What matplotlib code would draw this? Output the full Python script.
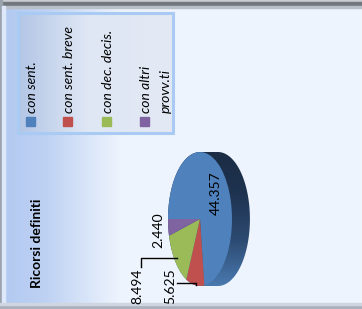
import numpy as np
import matplotlib
matplotlib.use("Agg")
import matplotlib.pyplot as plt
from matplotlib.colors import LinearSegmentedColormap
from matplotlib.patches import Rectangle, Polygon

# ---- data ----
categories = ["con sent.", "con sent. breve", "con dec. decis.", "con altri\nprovv.ti"]
values = [44.357, 5.625, 8.494, 2.440]
value_labels = ["44.357", "5.625", "8.494", "2.440"]
colors = ["#4f81bd", "#c0504d", "#9bbb59", "#8064a2"]
title = "Ricorsi definiti"

W, H = 362, 309
fig = plt.figure(figsize=(W / 100, H / 100), dpi=100)
plt.rcParams['font.family'] = ['Lato', 'DejaVu Sans']

# ---- background axes (pixel coords) ----
bg = fig.add_axes([0, 0, 1, 1], zorder=0)
bg.set_xlim(0, W)
bg.set_ylim(H, 0)
bg.axis('off')
bgcmap = LinearSegmentedColormap.from_list('bg', [(0, '#b2c9f0'), (0.12, '#bdd1f3'), (0.33, '#eef4fd'), (1, '#eff5fd')])
grad = np.linspace(0, 1, 362)[None, :]
bg.imshow(grad, extent=(0, W, H, 0), cmap=bgcmap, aspect='auto', zorder=0)
# borders
bg.add_patch(Rectangle((0, 0), W, 2, color='#c9cdd3', zorder=1))
bg.add_patch(Rectangle((0, 2), W, 4, color='#72777e', zorder=1))
bg.add_patch(Rectangle((0, 6), W, 2, color='#b9bfc7', zorder=1))
bg.add_patch(Rectangle((0, 0), 2, H, color='#9aa2ad', zorder=1))
bg.add_patch(Rectangle((2, 6), 3, H - 8, color='#dde9fb', zorder=1))
bg.add_patch(Rectangle((0, H - 4), W, 4, color='#a9b1bc', zorder=1))
bg.add_patch(Rectangle((0, H - 6), W, 2, color='#cfd6e0', zorder=1))

# legend box
lx0, ly0, lx1, ly1 = 18, 13, 173, 133
lcmap = LinearSegmentedColormap.from_list('lg', [(0, '#b3c6e6'), (0.45, '#dfe7f4'), (1, '#e3e9f5')])
lim = bg.imshow(np.linspace(0, 1, 100)[None, :], extent=(lx0, lx1, ly1, ly0),
                cmap=lcmap, aspect='auto', zorder=2)
lbox = Rectangle((lx0, ly0), lx1 - lx0, ly1 - ly0, facecolor='none',
                 edgecolor='#a9cbf3', lw=2.2, zorder=3)
bg.add_patch(lbox)
lim.set_clip_path(lbox)
bg.set_xlim(0, W)
bg.set_ylim(H, 0)

# ---- pie axes ----
cx, cy, sx, sy = 200, 219, 32, 67
x0d, x1d, y0d, y1d = -1.2, 2.0, -1.2, 1.2
left_px = cx + x0d * sx
right_px = cx + x1d * sx
top_px = cy - y1d * sy
bot_px = cy - y0d * sy
pax = fig.add_axes([left_px / W, (H - bot_px) / H, (right_px - left_px) / W, (bot_px - top_px) / H], zorder=2)
pax.patch.set_alpha(0)

depth = 0.56
th1 = np.linspace(np.pi / 2, 3 * np.pi / 2, 100)
th2 = np.linspace(3 * np.pi / 2, 5 * np.pi / 2, 100)
hull = np.vstack([np.c_[np.cos(th1), np.sin(th1)], np.c_[depth + np.cos(th2), np.sin(th2)]])
side = Polygon(hull, closed=True, facecolor='none', edgecolor='none')
pax.add_patch(side)
scmap = LinearSegmentedColormap.from_list('sd', [(0, '#4a79b0'), (0.35, '#2c4a70'), (0.7, '#1e3350'), (1, '#1b2c44')])
sim = pax.imshow(np.linspace(0, 1, 200)[:, None], extent=(-1, 1 + depth, -1, 1), origin='lower',
                 cmap=scmap, aspect='auto', zorder=1)
sim.set_clip_path(side)

wedges, _ = pax.pie(values, colors=colors, startangle=180, counterclock=False, radius=1,
                    center=(0, 0), wedgeprops=dict(linewidth=0), frame=False)
for w in wedges:
    w.set_zorder(2)
pax.set_aspect('auto')
pax.set_xlim(x0d, x1d)
pax.set_ylim(y0d, y1d)
pax.axis('off')

# ---- overlay (pixel coords) for texts ----
ov = fig.add_axes([0, 0, 1, 1], zorder=3)
ov.set_xlim(0, W)
ov.set_ylim(H, 0)
ov.axis('off')
ov.patch.set_alpha(0)

ov.text(37, 243, title, rotation=90, ha='center', va='center', fontsize=10,
        fontweight='bold', color='black')

# legend entries
leg_x = [30, 67, 106, 144]
for i, (cat, col) in enumerate(zip(categories, colors)):
    ov.add_patch(Rectangle((leg_x[i] - 4.5, 116.5), 9, 9, color=col))
    lines = cat.split("\n")
    for j, ln in enumerate(lines):
        ov.text(leg_x[i] + 2 + j * 20, 113, ln, rotation=90, ha='center', va='bottom',
                fontsize=10, style='italic', color='black')

# data labels
ov.text(216, 193, value_labels[0], rotation=90, ha='center', va='center', fontsize=10)
ov.text(158, 230, value_labels[3], rotation=90, ha='center', va='center', fontsize=10)
ov.text(137, 286, value_labels[2], rotation=90, ha='center', va='center', fontsize=10)
ov.text(170, 286, value_labels[1], rotation=90, ha='center', va='center', fontsize=10)
ov.plot([177, 141, 141], [258, 258, 267], color='black', lw=1)
ov.plot([177, 196, 196], [283, 283, 285], color='black', lw=1)

fig.savefig("out.png", dpi=100)
